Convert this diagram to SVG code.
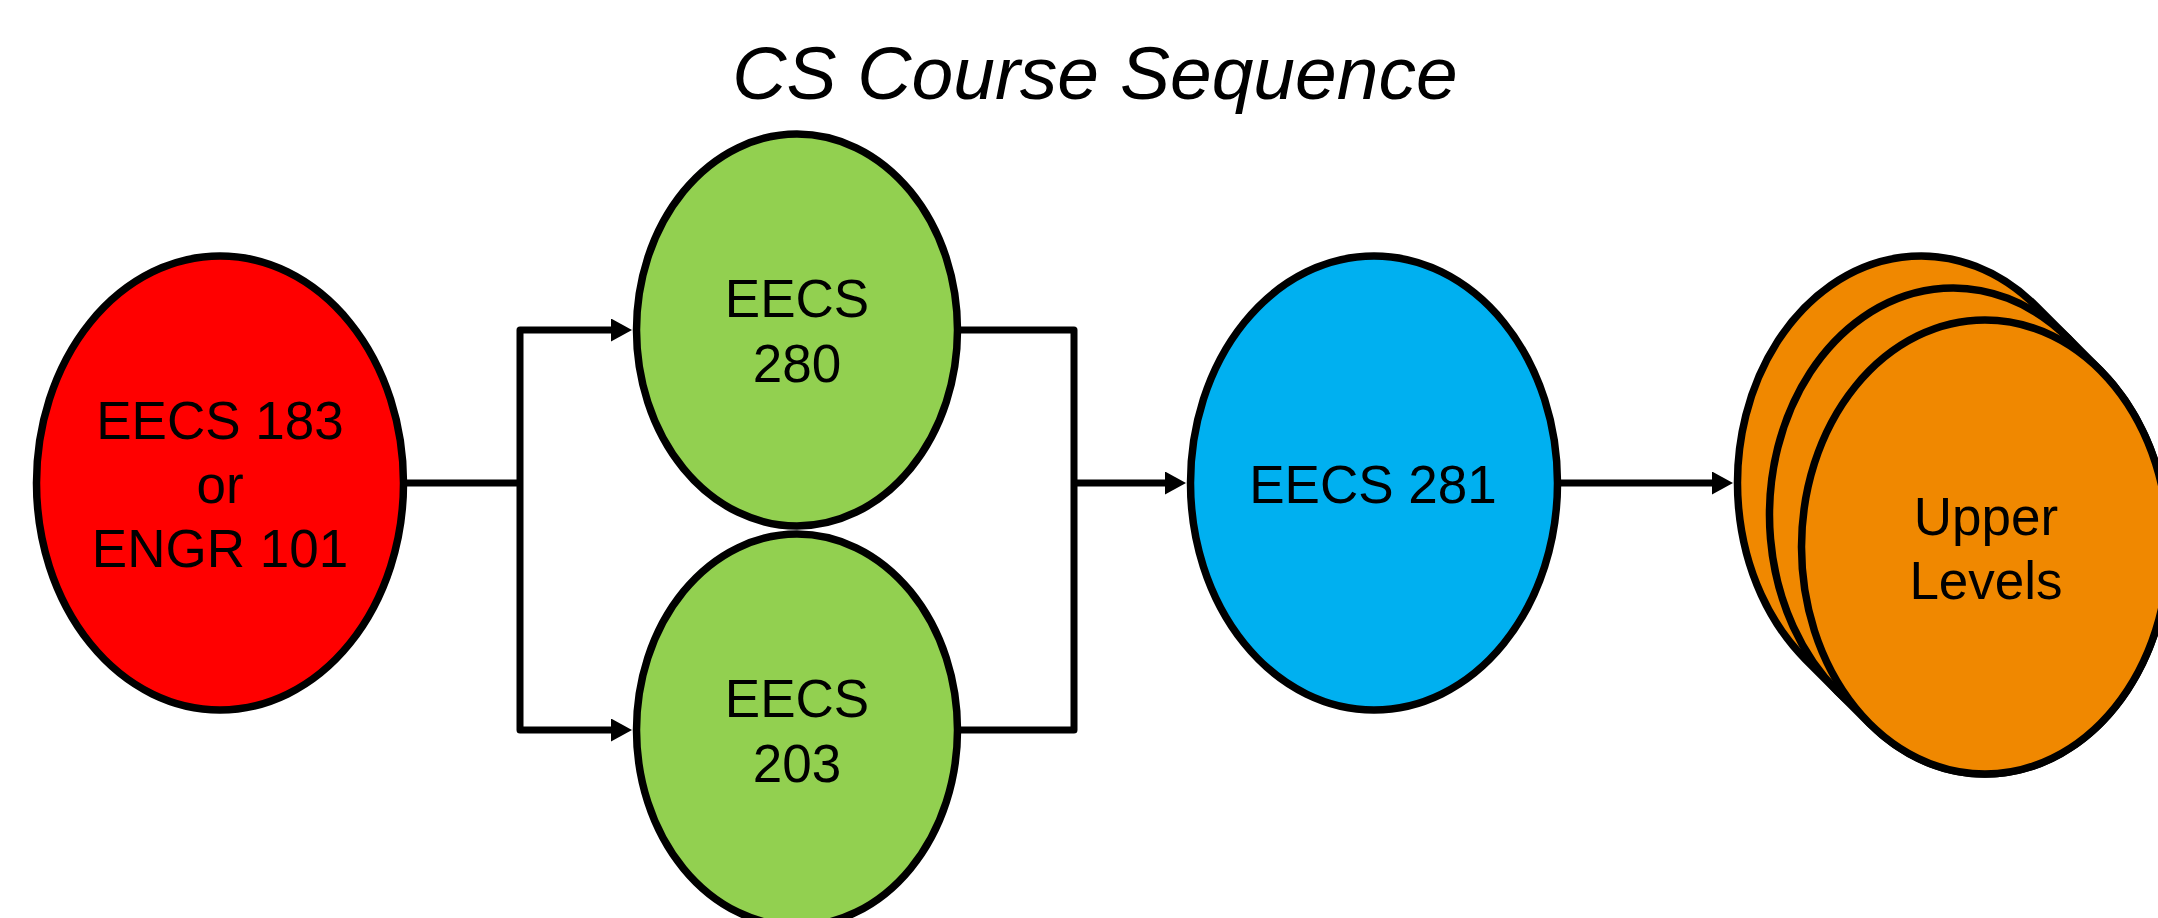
<svg xmlns="http://www.w3.org/2000/svg" width="2158" height="918" viewBox="0 0 2158 918">
<style>
.node{stroke:#000;stroke-width:7.5}
.lbl{font-family:"Liberation Sans",Arial,sans-serif;font-size:53px;fill:#000;text-anchor:middle}
.title{font-family:"Liberation Sans",Arial,sans-serif;font-size:75px;font-style:italic;fill:#000;text-anchor:middle}
.conn{fill:none;stroke:#000;stroke-width:7;stroke-linejoin:round}
</style>
<defs>
<marker id="arrow" markerUnits="userSpaceOnUse" markerWidth="22" markerHeight="24" refX="11" refY="11.5" orient="auto">
<path d="M0,0 L21,11.5 L0,23 Z" fill="#000"/>
</marker>
</defs>
<rect width="2158" height="918" fill="#fff"/>
<text class="title" x="1095" y="99">CS Course Sequence</text>
<g id="eecs183">
<ellipse class="node" cx="220" cy="483" rx="183.5" ry="227" fill="#FF0000"/>
<text class="lbl" x="220" y="439">EECS 183</text>
<text class="lbl" x="220" y="503">or</text>
<text class="lbl" x="220" y="567">ENGR 101</text>
</g>
<g id="eecs280">
<ellipse class="node" cx="797" cy="330" rx="160.5" ry="196" fill="#92D050"/>
<text class="lbl" x="797" y="317">EECS</text>
<text class="lbl" x="797" y="382">280</text>
</g>
<g id="eecs203">
<ellipse class="node" cx="797" cy="730" rx="160.5" ry="196" fill="#92D050"/>
<text class="lbl" x="797" y="717">EECS</text>
<text class="lbl" x="797" y="782">203</text>
</g>
<g id="eecs281">
<ellipse class="node" cx="1374" cy="483" rx="183.5" ry="227" fill="#00B0F0"/>
<text class="lbl" x="1373" y="503">EECS 281</text>
</g>
<g id="upper">
<path class="node" fill="#F08800" d="M2036.4,306.5 L2068.4,338.5 A183.5,227 0 0 1 2095.7,657.7 A183.5,227 0 0 1 1837.6,691.5 L1805.6,659.5 A183.5,227 0 0 1 1778.3,340.3 A183.5,227 0 0 1 2036.4,306.5 Z"/>
<path class="node" fill="#F08800" d="M2068.4,338.5 L2100.4,370.5 A183.5,227 0 0 1 2127.7,689.7 A183.5,227 0 0 1 1869.6,723.5 L1837.6,691.5 A183.5,227 0 0 1 1810.3,372.3 A183.5,227 0 0 1 2068.4,338.5 Z"/>
<ellipse class="node" cx="1985" cy="547" rx="183.5" ry="227" fill="#F08800"/>
<text class="lbl" x="1986" y="535">Upper</text>
<text class="lbl" x="1986" y="599">Levels</text>
</g>
<g id="connectors">
<path class="conn" d="M404,483 H520"/>
<path class="conn" d="M520,483 V330 H622" marker-end="url(#arrow)"/>
<path class="conn" d="M520,483 V730 H622" marker-end="url(#arrow)"/>
<path class="conn" d="M958,330 H1074 V730 H958"/>
<path class="conn" d="M1074,483 H1176" marker-end="url(#arrow)"/>
<path class="conn" d="M1558,483 H1723" marker-end="url(#arrow)"/>
</g>
</svg>
